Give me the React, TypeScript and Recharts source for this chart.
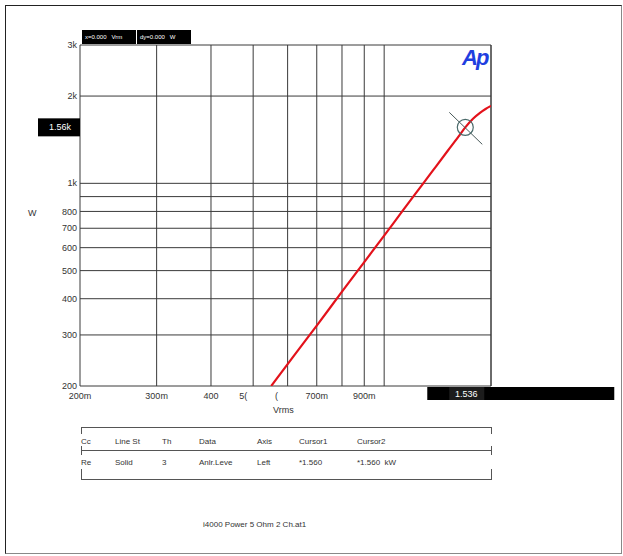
import React from 'react';
import { CartesianGrid, Line, LineChart, ReferenceDot, ReferenceLine, XAxis, YAxis } from 'recharts';

// Output power (W) against input level (Vrms)
const VOLTS = [0.55, 0.62, 0.7, 0.8, 0.9, 1.0, 1.1, 1.23, 1.3, 1.4, 1.48, 1.536, 1.6, 1.66, 1.71, 1.76];
const WATTS = [200, 254, 323, 423, 535, 660, 800, 1000, 1117, 1295, 1446, 1560, 1670, 1750, 1805, 1850];

const X_TICKS = [0.2, 0.3, 0.4, 0.5, 0.6, 0.7, 0.8, 0.9, 1];
const X_LABELS = ['200m', '300m', '400', '5(', '(', '700m', '', '900m', ''];
const Y_TICKS = [200, 300, 400, 500, 600, 700, 800, 900, 1000, 2000, 3000];
const Y_LABELS = ['200', '300', '400', '500', '600', '700', '800', '', '1k', '2k', '3k'];

const X_MAX = 1.76;
const CURSOR_V = 1.536;
const CURSOR_W = 1560;

const TABLE_COLS = [81, 115, 162, 199, 257, 299, 357];
const TABLE_HEAD = ['Cc', 'Line St', 'Th', 'Data', 'Axis', 'Cursor1', 'Cursor2'];
const TABLE_ROW = ['Re', 'Solid', '3', 'Anlr.Leve', 'Left', '*1.560', '*1.560  kW'];

const data = VOLTS.map((v, i) => ({ v, w: WATTS[i] }));

const FONT = '"Liberation Sans", Arial, sans-serif';
const GRID = '#3a3a3a';
const TXT = '#333';

// labels that got squeezed sit left of their grid line
const X_SHIFT: Record<string, number> = { '5(': -10, '(': -11 };

const XTick = ({ x, y, payload }: any) => {
  const idx = X_TICKS.indexOf(payload.value);
  const label = X_LABELS[idx] ?? '';
  return (
    <text x={x + (X_SHIFT[label] ?? 0)} y={y + 5} textAnchor="middle" dy="0.71em" fontSize={9} fill={TXT} fontFamily={FONT}>
      {label}
    </text>
  );
};

const YTick = ({ x, y, payload }: any) => {
  const idx = Y_TICKS.indexOf(payload.value);
  return (
    <text x={x} y={y} textAnchor="end" dy="0.35em" fontSize={9} fill={TXT} fontFamily={FONT}>
      {Y_LABELS[idx] ?? ''}
    </text>
  );
};

// cursor marker plus its two readout boxes
const CursorMark = ({ cx, cy }: any) => (
  <g>
    <line x1={cx - 16} y1={cy - 15} x2={cx + 17} y2={cy + 17} stroke="#4a5a5a" strokeWidth={1} />
    <circle cx={cx} cy={cy} r={8} fill="none" stroke="#4a6a6a" strokeWidth={1.2} />
    <rect x={38} y={cy - 9} width={42} height={18} fill="#000" />
    <text x={60} y={cy} dy="0.35em" textAnchor="middle" fontSize={9} fill="#fff" fontFamily={FONT}>
      1.56k
    </text>
    <rect x={cx - 38} y={387} width={187} height={13} fill="#000" />
    <rect x={cx - 16} y={387} width={35} height={13} fill="#1c1c1c" />
    <text x={cx + 1} y={393.5} dy="0.35em" textAnchor="middle" fontSize={9} fill="#fff" fontFamily={FONT}>
      1.536
    </text>
  </g>
);

export default function App() {
  return (
    <div style={{ position: 'relative', width: 623, height: 556, background: '#fff', fontFamily: FONT, overflow: 'hidden' }}>
      <style>{'body{margin:0}'}</style>
      <div
        style={{
          position: 'absolute',
          left: 5,
          top: 5,
          width: 615,
          height: 547,
          borderTop: '1px solid #222',
          borderLeft: '1px solid #222',
          borderRight: '1px solid #888',
          borderBottom: '1px solid #888',
        }}
      />

      <LineChart width={623} height={556} data={data} margin={{ top: 45, right: 132, bottom: 140, left: 0 }} style={{ position: 'absolute', left: 0, top: 0 }}>
        <CartesianGrid stroke={GRID} strokeWidth={1} />
        <XAxis
          dataKey="v"
          type="number"
          scale="log"
          domain={[0.2, X_MAX]}
          ticks={X_TICKS}
          allowDataOverflow
          axisLine={false}
          tickLine={false}
          tickSize={0}
          height={30}
          tick={<XTick />}
          interval={0}
        />
        <YAxis
          dataKey="w"
          type="number"
          scale="log"
          domain={[200, 3000]}
          ticks={Y_TICKS}
          allowDataOverflow
          axisLine={false}
          tickLine={false}
          tickSize={0}
          tickMargin={3}
          width={80}
          tick={<YTick />}
          interval={0}
        />
        <ReferenceLine x={X_MAX} stroke={GRID} strokeWidth={1} />
        <Line dataKey="w" type="monotone" stroke="#e3121b" strokeWidth={2.2} dot={false} isAnimationActive={false} />
        <ReferenceDot x={CURSOR_V} y={CURSOR_W} r={8} shape={<CursorMark />} ifOverflow="visible" />
      </LineChart>

      {/* top readout boxes */}
      <div style={{ position: 'absolute', left: 82, top: 30, width: 54, height: 14, background: '#000', color: '#fff', fontSize: 6, lineHeight: '14px', paddingLeft: 3, boxSizing: 'border-box', whiteSpace: 'nowrap' }}>
        x=0.000&nbsp;&nbsp;&nbsp;Vrm
      </div>
      <div style={{ position: 'absolute', left: 137, top: 30, width: 54, height: 14, background: '#000', color: '#fff', fontSize: 6, lineHeight: '14px', paddingLeft: 3, boxSizing: 'border-box', whiteSpace: 'nowrap' }}>
        dy=0.000&nbsp;&nbsp;&nbsp;W
      </div>

      {/* logo */}
      <div style={{ position: 'absolute', left: 462, top: 45, fontSize: 22, fontWeight: 'bold', fontStyle: 'italic', color: '#1f3fe0', letterSpacing: -2, fontFamily: FONT }}>
        Ap
      </div>

      {/* axis titles */}
      <div style={{ position: 'absolute', left: 28, top: 208, fontSize: 9, color: TXT }}>W</div>
      <div style={{ position: 'absolute', left: 273, top: 405, fontSize: 9, color: TXT }}>Vrms</div>

      {/* legend table */}
      <svg width={623} height={556} style={{ position: 'absolute', left: 0, top: 0, pointerEvents: 'none' }}>
        <g stroke="#555" strokeWidth={1} fill="none">
          <line x1={81} y1={427.5} x2={492} y2={427.5} />
          <line x1={81.5} y1={427} x2={81.5} y2={434} />
          <line x1={491.5} y1={427} x2={491.5} y2={434} />
          <line x1={81} y1={450.5} x2={492} y2={450.5} />
          <line x1={81.5} y1={446} x2={81.5} y2={455} />
          <line x1={491.5} y1={446} x2={491.5} y2={455} />
          <line x1={81} y1={479.5} x2={492} y2={479.5} />
          <line x1={81.5} y1={469} x2={81.5} y2={480} />
          <line x1={491.5} y1={469} x2={491.5} y2={480} />
        </g>
        {TABLE_HEAD.map((t, i) => (
          <text key={`h${i}`} x={TABLE_COLS[i]} y={441} dy="0.35em" fontSize={8} fill={TXT} fontFamily={FONT}>
            {t}
          </text>
        ))}
        {TABLE_ROW.map((t, i) => (
          <text key={`r${i}`} x={TABLE_COLS[i]} y={462} dy="0.35em" fontSize={8} fill={TXT} fontFamily={FONT} style={{ whiteSpace: 'pre' }}>
            {t}
          </text>
        ))}
        <text x={203} y={524} dy="0.35em" fontSize={8} fill={TXT} fontFamily={FONT}>
          i4000 Power 5 Ohm 2 Ch.at1
        </text>
      </svg>
    </div>
  );
}
